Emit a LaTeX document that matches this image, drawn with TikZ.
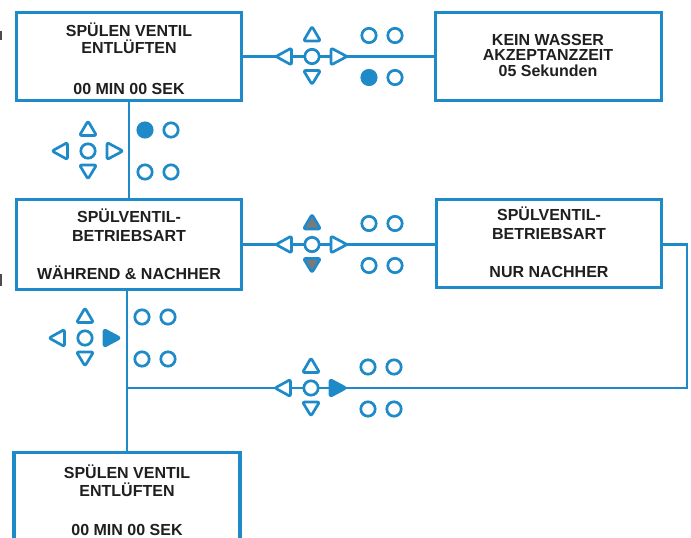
\documentclass[tikz,border=0pt]{standalone}
\usepackage{fontspec}
\setmainfont{Liberation Sans}
\definecolor{navblue}{HTML}{1E8AC8}
\definecolor{keygray}{HTML}{7A7A7A}

% navigation pad: #1 centre, #2..#5 fill of the up, down, left and right keys
\newcommand\keypad[5]{%
  \begin{scope}[shift={(#1)}]
    \draw[key, fill=#2] (-8.5,-15.5) -- (8.5,-15.5) -- (0,-30) -- cycle;
    \draw[key, fill=#3] (-8.5,14) -- (8.5,14) -- (0,28) -- cycle;
    \draw[key, fill=#4] (-20.5,-8.5) -- (-20.5,8.5) -- (-36,0) -- cycle;
    \draw[key, fill=#5] (19,-8.5) -- (19,8.5) -- (35,0) -- cycle;
    \draw[key, fill=white] (0,0) circle (7.2pt);
  \end{scope}}

% four indicator lamps beside a pad: #1 pad, #2..#5 styles (top-left, top-right, bottom-left, bottom-right)
\newcommand\lampgrid[5]{%
  \node[#2] (#1-tl) at ([shift={(57,-21)}]#1) {};
  \node[#3] (#1-tr) at ([shift={(83,-21)}]#1) {};
  \node[#4] (#1-bl) at ([shift={(57,21)}]#1) {};
  \node[#5] (#1-br) at ([shift={(83,21)}]#1) {};}

\begin{document}
\begin{tikzpicture}[x=1pt,y=-1pt,
  panel/.style={draw=navblue, line width=2.4pt, fill=white, inner sep=0pt},
  wire/.style={draw=navblue, line width=2.3pt},
  key/.style={draw=navblue, line width=2.7pt, rounded corners=2pt, line join=round},
  led/.style={circle, draw=navblue, line width=2.7pt, minimum size=14.4pt, inner sep=0pt, fill=white},
  ledon/.style={led, fill=navblue},
  caption/.style={font=\bfseries\fontsize{16}{18}\selectfont, text=black!88, inner sep=0pt, anchor=base},
]
\useasboundingbox (0,0) rectangle (691,538);
\clip (0,0) rectangle (691,538);

% menu screens
\node[panel, minimum width=224pt, minimum height=87pt] (b1) at (129,56.5) {};
\node[panel, minimum width=225pt, minimum height=87pt] (rb1) at (548.5,56.5) {};
\node[panel, minimum width=224pt, minimum height=89pt] (b2) at (129,244.5) {};
\node[panel, minimum width=224pt, minimum height=87pt] (rb2) at (549,243.5) {};
\node[panel, minimum width=225pt, minimum height=117pt] (b3) at (127,511.5) {};

% connections
\coordinate (join) at (127,388);
\coordinate (bend) at (687,244.5);
\draw[wire] (b1.south) -- (b2.north);
\draw[wire] (b1.east) -- (rb1.west);
\draw[wire] (b2.east) -- (b2.east -| rb2.west);
\draw[wire] (b2.south -| join) -- (b3.north -| join);
\draw[wire] (b2.east -| rb2.east) -- (bend) |- (join);

% redraw screen frames over the wire ends
\foreach \n in {b1,rb1,b2,rb2,b3}
  \draw[navblue, line width=2.4pt] (\n.north west) rectangle (\n.south east);

% cropped marks on the left edge
\fill[black!70] (0,31) rectangle (2,40);
\fill[black!70] (0,274) rectangle (2,286);

% screen texts
\node[caption] (t11) at (129,36) {SPÜLEN VENTIL};
\node[caption] (t12) at (129,53) {ENTLÜFTEN};
\node[caption] (t13) at (129,94) {00 MIN 00 SEK};

\node[caption] (t21) at (548,45) {KEIN WASSER};
\node[caption] (t22) at (548,60.5) {AKZEPTANZZEIT};
\node[caption] (t23) at (548,76.5) {05 Sekunden};

\node[caption] (t31) at (129,222) {SPÜLVENTIL-};
\node[caption] (t32) at (129,241) {BETRIEBSART};
\node[caption] (t33) at (129,279) {WÄHREND \& NACHHER};

\node[caption] (t41) at (549,220) {SPÜLVENTIL-};
\node[caption] (t42) at (549,239) {BETRIEBSART};
\node[caption] (t43) at (549,277) {NUR NACHHER};

\node[caption] (t51) at (127,478) {SPÜLEN VENTIL};
\node[caption] (t52) at (127,496) {ENTLÜFTEN};
\node[caption] (t53) at (127,535) {00 MIN 00 SEK};

% key pads and lamps
\coordinate (p1) at (312,56.5);
\coordinate (p2) at (88,151);
\coordinate (p3) at (312,244.5);
\coordinate (p4) at (85,338);
\coordinate (p5) at (311,388);

\keypad{p1}{white}{white}{white}{white}
\lampgrid{p1}{led}{led}{ledon}{led}

\keypad{p2}{white}{white}{white}{white}
\lampgrid{p2}{ledon}{led}{led}{led}

\keypad{p3}{keygray}{keygray}{white}{white}
\lampgrid{p3}{led}{led}{led}{led}

\keypad{p4}{white}{white}{white}{navblue}
\lampgrid{p4}{led}{led}{led}{led}

\keypad{p5}{white}{white}{white}{navblue}
\lampgrid{p5}{led}{led}{led}{led}
\end{tikzpicture}
\end{document}
